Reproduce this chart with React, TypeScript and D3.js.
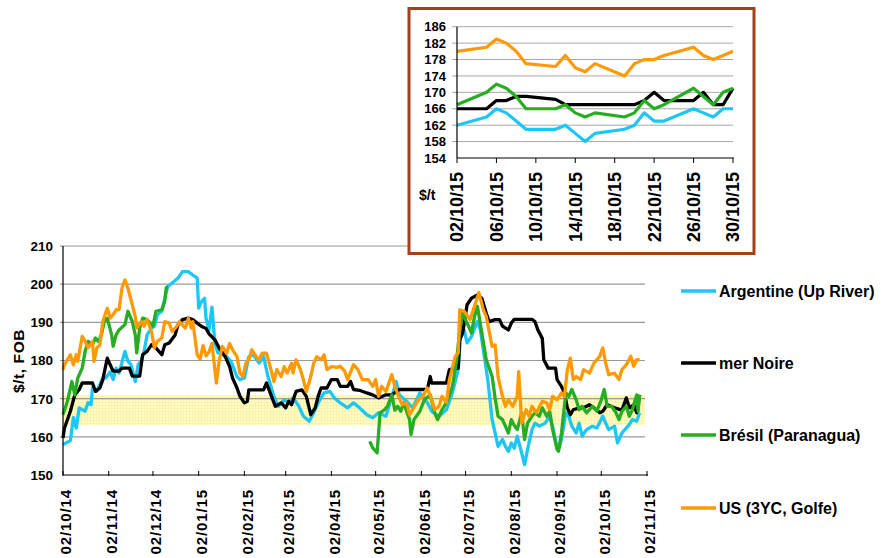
import React, { useEffect, useRef } from 'react';
import * as d3 from 'd3';

// prix FOB du maïs, $/t — séries
const argentine: [string, number][] = [
  ['14-10-02', 158], ['14-10-07', 159], ['14-10-09', 165], ['14-10-11', 162.3], ['14-10-13', 167.6], ['14-10-17', 166.7],
  ['14-10-19', 169], ['14-10-21', 168.4], ['14-10-22', 172.8], ['14-10-25', 172], ['14-10-27', 173.7], ['14-10-29', 175.4],
  ['14-10-31', 175.4], ['14-11-03', 177], ['14-11-05', 175], ['14-11-07', 178], ['14-11-09', 176.7], ['14-11-13', 182.4],
  ['14-11-15', 179.8], ['14-11-17', 179], ['14-11-20', 174.5], ['14-11-22', 179], ['14-11-24', 179.8], ['14-11-26', 182.4],
  ['14-11-28', 186.7], ['14-12-01', 188.5], ['14-12-03', 189], ['14-12-05', 192], ['14-12-08', 192.9], ['14-12-10', 196.3],
  ['14-12-12', 199.4], ['14-12-15', 200.3], ['14-12-19', 201.6], ['14-12-22', 203.3], ['14-12-26', 203.3], ['14-12-29', 202.4],
  ['15-01-01', 201.6], ['15-01-02', 193.7], ['15-01-04', 195.5], ['15-01-06', 196.3], ['15-01-07', 191], ['15-01-09', 188],
  ['15-01-11', 194], ['15-01-13', 184.5], ['15-01-15', 182], ['15-01-18', 182.3], ['15-01-21', 181], ['15-01-24', 179.7],
  ['15-01-28', 175.8], ['15-01-30', 175], ['15-02-02', 175.4], ['15-02-05', 181], ['15-02-08', 181.5], ['15-02-12', 179.3],
  ['15-02-15', 181], ['15-02-18', 175.8], ['15-02-22', 170.6], ['15-02-25', 168], ['15-03-01', 169.7], ['15-03-04', 168.9],
  ['15-03-07', 170.2], ['15-03-11', 168], ['15-03-14', 165.4], ['15-03-18', 164.1], ['15-03-21', 166.3], ['15-03-24', 168.9],
  ['15-03-28', 171.5], ['15-04-01', 171.9], ['15-04-04', 170.2], ['15-04-08', 168.9], ['15-04-13', 167.6], ['15-04-17', 168.9],
  ['15-04-21', 167.6], ['15-04-26', 165.8], ['15-04-30', 165], ['15-05-04', 166.3], ['15-05-09', 165.4], ['15-05-13', 170.6],
  ['15-05-16', 174.5], ['15-05-18', 171], ['15-05-23', 169.3], ['15-05-27', 167.6], ['15-06-01', 171.5], ['15-06-06', 169],
  ['15-06-09', 166.7], ['15-06-14', 165.4], ['15-06-19', 167.1], ['15-06-23', 171.5], ['15-06-27', 177.6], ['15-06-29', 188.9],
  ['15-07-01', 188], ['15-07-03', 184.6], ['15-07-06', 186.3], ['15-07-10', 190.2], ['15-07-12', 188], ['15-07-14', 182.8],
  ['15-07-17', 175], ['15-07-20', 164.5], ['15-07-24', 157.5], ['15-07-27', 159.3], ['15-07-29', 157.5], ['15-07-31', 156.2],
  ['15-08-02', 158.4], ['15-08-04', 157], ['15-08-06', 160.2], ['15-08-09', 155.8], ['15-08-11', 152.7], ['15-08-13', 156.7],
  ['15-08-16', 161.9], ['15-08-18', 163.6], ['15-08-21', 162.8], ['15-08-25', 163.6], ['15-08-28', 165.4], ['15-08-30', 162.8],
  ['15-09-02', 157.1], ['15-09-03', 156.7], ['15-09-05', 159.3], ['15-09-08', 166.3], ['15-09-10', 165.4], ['15-09-12', 162.8],
  ['15-09-15', 161], ['15-09-17', 163.6], ['15-09-19', 160.2], ['15-09-22', 161.9], ['15-09-26', 162.8], ['15-09-29', 162.3],
  ['15-10-03', 165.4], ['15-10-05', 163.6], ['15-10-07', 161.9], ['15-10-11', 162.8], ['15-10-13', 158.4], ['15-10-16', 161],
  ['15-10-18', 161.9], ['15-10-21', 163.2], ['15-10-23', 164.5], ['15-10-26', 164.1], ['15-10-28', 166.3],
];

const merNoire: [string, number][] = [
  ['14-10-02', 159.7], ['14-10-03', 162.3], ['14-10-07', 166.7], ['14-10-10', 171], ['14-10-13', 172.4], ['14-10-15', 174.1],
  ['14-10-22', 174.1], ['14-10-24', 171.9], ['14-10-27', 172.8], ['14-10-29', 175], ['14-11-01', 180.6], ['14-11-03', 178.9],
  ['14-11-05', 177.2], ['14-11-09', 177.2], ['14-11-11', 178], ['14-11-16', 178], ['14-11-18', 175.9], ['14-11-23', 175.9],
  ['14-11-25', 181.5], ['14-11-28', 182.4], ['14-12-01', 184.1], ['14-12-04', 183.3], ['14-12-08', 181.5], ['14-12-10', 184.1],
  ['14-12-13', 184.6], ['14-12-17', 186.7], ['14-12-19', 189.4], ['14-12-22', 190.7], ['14-12-26', 191.1], ['14-12-29', 190.7],
  ['15-01-01', 189.8], ['15-01-04', 188.9], ['15-01-07', 188.4], ['15-01-09', 187], ['15-01-13', 185.4], ['15-01-16', 183.2],
  ['15-01-20', 181], ['15-01-23', 178.4], ['15-01-25', 175.4], ['15-01-28', 172.8], ['15-01-30', 170.6], ['15-02-02', 168.9],
  ['15-02-04', 169.3], ['15-02-05', 172.3], ['15-02-15', 172.3], ['15-02-17', 174.1], ['15-02-20', 171], ['15-02-23', 168],
  ['15-02-27', 168.9], ['15-03-02', 167.6], ['15-03-04', 169.3], ['15-03-06', 168.4], ['15-03-09', 171.9], ['15-03-13', 172.3],
  ['15-03-16', 170.6], ['15-03-19', 165.8], ['15-03-22', 167.6], ['15-03-24', 170.6], ['15-03-26', 172.8], ['15-03-30', 172.8],
  ['15-04-02', 175], ['15-04-06', 175], ['15-04-08', 173.2], ['15-04-13', 173.2], ['15-04-15', 174.5], ['15-04-17', 172.4],
  ['15-04-21', 172.2], ['15-04-26', 171.5], ['15-04-30', 171], ['15-05-04', 170.2], ['15-05-09', 171], ['15-05-13', 171],
  ['15-05-18', 172.4], ['15-06-06', 172.4], ['15-06-08', 175.8], ['15-06-09', 174.1], ['15-06-19', 174.1], ['15-06-21', 177.6],
  ['15-06-27', 178], ['15-06-28', 185.4], ['15-06-30', 187.2], ['15-07-03', 194.6], ['15-07-06', 196.3], ['15-07-10', 197.2],
  ['15-07-13', 196.3], ['15-07-16', 192.4], ['15-07-18', 190.2], ['15-07-22', 190.7], ['15-07-25', 190.7], ['15-07-27', 189],
  ['15-07-31', 188], ['15-08-02', 189.8], ['15-08-04', 190.8], ['15-08-16', 190.8], ['15-08-18', 190.2], ['15-08-20', 188],
  ['15-08-23', 185.8], ['15-08-24', 180.2], ['15-08-27', 178], ['15-09-01', 178], ['15-09-02', 175], ['15-09-05', 173.2],
  ['15-09-07', 171.5], ['15-09-09', 167.6], ['15-09-11', 165.8], ['15-09-13', 167.1], ['15-09-17', 167.6], ['15-09-20', 167.6],
  ['15-09-24', 168.4], ['15-09-27', 167.6], ['15-10-01', 166.3], ['15-10-03', 166.7], ['15-10-06', 168.4], ['15-10-11', 167.6],
  ['15-10-16', 167], ['15-10-19', 170.2], ['15-10-21', 167.6], ['15-10-24', 168.4], ['15-10-26', 166.3], ['15-10-28', 171],
];

// null = pas de cotation (décembre 2014 à fin avril 2015)
const bresil: [string, number | null][] = [
  ['14-10-02', 165.8], ['14-10-05', 169.3], ['14-10-08', 174.5], ['14-10-10', 171], ['14-10-12', 175.4], ['14-10-15', 178],
  ['14-10-17', 182.4], ['14-10-19', 185], ['14-10-22', 184.1], ['14-10-24', 185.9], ['14-10-26', 185], ['14-10-28', 186.7],
  ['14-10-30', 190.2], ['14-11-01', 191.1], ['14-11-04', 186.7], ['14-11-05', 183.7], ['14-11-07', 186.7], ['14-11-09', 188],
  ['14-11-13', 189.4], ['14-11-15', 192.9], ['14-11-18', 190.2], ['14-11-20', 186.7], ['14-11-21', 182], ['14-11-23', 188.5],
  ['14-11-25', 191.1], ['14-11-28', 190.7], ['14-12-02', 189], ['14-12-04', 192.9], ['14-12-08', 193.3], ['14-12-10', 195.5],
  ['14-12-11', 199], ['14-12-12', 199.4], ['15-02-01', null],
  ['15-04-28', 158.8], ['15-04-30', 157.1], ['15-05-03', 155.8], ['15-05-05', 166.3], ['15-05-08', 167.1], ['15-05-10', 168],
  ['15-05-13', 171], ['15-05-15', 167], ['15-05-17', 168], ['15-05-19', 166.7], ['15-05-21', 168.9], ['15-05-25', 164.5],
  ['15-05-26', 160.6], ['15-05-28', 164.5], ['15-06-01', 166.7], ['15-06-04', 169.7], ['15-06-08', 171], ['15-06-11', 166.3],
  ['15-06-13', 164.5], ['15-06-16', 167.1], ['15-06-20', 169.7], ['15-06-23', 173.2], ['15-06-26', 180.2], ['15-06-28', 188],
  ['15-06-30', 192.4], ['15-07-03', 189.8], ['15-07-06', 187.2], ['15-07-08', 191.5], ['15-07-10', 194.2], ['15-07-13', 187.2],
  ['15-07-16', 180.2], ['15-07-20', 175.8], ['15-07-22', 170.2], ['15-07-24', 165.4], ['15-07-27', 164.5], ['15-07-29', 162.8],
  ['15-07-31', 161], ['15-08-02', 164.5], ['15-08-04', 163], ['15-08-06', 161.9], ['15-08-09', 166.3], ['15-08-11', 159.3],
  ['15-08-13', 163.6], ['15-08-16', 165.4], ['15-08-18', 166.3], ['15-08-21', 165.4], ['15-08-23', 167.6], ['15-08-26', 165.4],
  ['15-08-28', 166.7], ['15-08-30', 161.9], ['15-09-02', 156.7], ['15-09-03', 156.2], ['15-09-05', 161], ['15-09-08', 171.5],
  ['15-09-10', 170.6], ['15-09-12', 172.4], ['15-09-15', 169.7], ['15-09-17', 167.1], ['15-09-19', 168], ['15-09-22', 166.3],
  ['15-09-26', 168], ['15-09-29', 166.7], ['15-10-02', 169.7], ['15-10-04', 172.4], ['15-10-06', 168], ['15-10-09', 168],
  ['15-10-12', 166.3], ['15-10-14', 164.5], ['15-10-16', 166.7], ['15-10-19', 168], ['15-10-21', 165.4], ['15-10-23', 167],
  ['15-10-26', 171], ['15-10-27', 166.7], ['15-10-28', 171],
];

const us: [string, number][] = [
  ['14-10-02', 177.6], ['14-10-03', 178.9], ['14-10-07', 181.5], ['14-10-09', 178.9], ['14-10-11', 181.5], ['14-10-12', 179.8],
  ['14-10-15', 186.3], ['14-10-17', 185], ['14-10-19', 183.3], ['14-10-22', 185], ['14-10-23', 179.8], ['14-10-25', 183.3],
  ['14-10-27', 184.1], ['14-10-29', 190.2], ['14-11-01', 193.7], ['14-11-03', 191.1], ['14-11-05', 192], ['14-11-07', 193.3],
  ['14-11-09', 193.3], ['14-11-11', 199], ['14-11-13', 201.1], ['14-11-15', 199], ['14-11-18', 194.6], ['14-11-20', 191.5],
  ['14-11-21', 188.5], ['14-11-24', 190.2], ['14-11-26', 189], ['14-11-28', 190.7], ['14-12-01', 187.6], ['14-12-03', 183.3],
  ['14-12-05', 185], ['14-12-08', 185.9], ['14-12-10', 190.2], ['14-12-13', 189.8], ['14-12-15', 187.6], ['14-12-18', 188.9],
  ['14-12-20', 190.2], ['14-12-24', 188.5], ['14-12-26', 191.1], ['14-12-28', 188.5], ['14-12-29', 190.2], ['15-01-01', 181.5],
  ['15-01-03', 180.4], ['15-01-05', 183.9], ['15-01-07', 181.2], ['15-01-09', 182.2], ['15-01-11', 184.5], ['15-01-14', 174.1],
  ['15-01-16', 180.2], ['15-01-18', 183.7], ['15-01-21', 181.9], ['15-01-23', 184.5], ['15-01-25', 182.8], ['15-01-28', 181],
  ['15-01-30', 176.7], ['15-02-01', 175.8], ['15-02-03', 179.3], ['15-02-05', 180.2], ['15-02-07', 182.8], ['15-02-10', 181],
  ['15-02-12', 180.2], ['15-02-14', 181.9], ['15-02-17', 181.9], ['15-02-20', 177.6], ['15-02-22', 174.5], ['15-02-24', 177.6],
  ['15-02-27', 175.8], ['15-03-01', 178.4], ['15-03-03', 176.7], ['15-03-06', 179.3], ['15-03-07', 176.7], ['15-03-09', 180.2],
  ['15-03-12', 177.6], ['15-03-14', 175], ['15-03-16', 171.9], ['15-03-19', 175.8], ['15-03-21', 179.3], ['15-03-23', 181],
  ['15-03-26', 180.2], ['15-03-28', 181.5], ['15-03-30', 177.6], ['15-04-02', 178.4], ['15-04-06', 178.2], ['15-04-08', 178.5],
  ['15-04-11', 177.2], ['15-04-13', 175], ['15-04-17', 178.9], ['15-04-20', 177.6], ['15-04-23', 175], ['15-04-27', 175],
  ['15-04-30', 173.2], ['15-05-02', 175], ['15-05-04', 170.6], ['15-05-06', 173.2], ['15-05-09', 171.9], ['15-05-13', 176.3],
  ['15-05-15', 173.2], ['15-05-18', 170.2], ['15-05-20', 168.4], ['15-05-23', 168.9], ['15-05-25', 165.8], ['15-05-27', 167.1],
  ['15-05-31', 169.7], ['15-06-03', 170.6], ['15-06-06', 172.8], ['15-06-09', 169.7], ['15-06-11', 167.1], ['15-06-14', 168],
  ['15-06-16', 170.6], ['15-06-19', 169], ['15-06-21', 175], ['15-06-25', 181.1], ['15-06-27', 182], ['15-06-28', 193.3],
  ['15-07-01', 192.9], ['15-07-05', 190.7], ['15-07-08', 194.2], ['15-07-11', 197.8], ['15-07-14', 193.3], ['15-07-16', 191.5],
  ['15-07-20', 183.7], ['15-07-22', 184.1], ['15-07-24', 175.8], ['15-07-27', 170.6], ['15-07-29', 168], ['15-07-31', 169.7],
  ['15-08-03', 168], ['15-08-06', 170.6], ['15-08-07', 177.1], ['15-08-09', 163.6], ['15-08-12', 167.1], ['15-08-14', 165.4],
  ['15-08-16', 168], ['15-08-19', 166.3], ['15-08-23', 169.3], ['15-08-26', 168.9], ['15-08-28', 167.1], ['15-08-30', 170.6],
  ['15-09-02', 169.7], ['15-09-05', 171.5], ['15-09-07', 170.6], ['15-09-09', 177.6], ['15-09-11', 180.6], ['15-09-13', 175],
  ['15-09-15', 175.8], ['15-09-18', 175], ['15-09-20', 177.6], ['15-09-24', 176.7], ['15-09-27', 179.3], ['15-10-01', 181.1],
  ['15-10-03', 183.3], ['15-10-05', 179.3], ['15-10-07', 176.3], ['15-10-11', 176.7], ['15-10-14', 175], ['15-10-16', 177.6],
  ['15-10-19', 178.9], ['15-10-22', 181.1], ['15-10-24', 178.5], ['15-10-26', 180.2], ['15-10-28', 180.2],
];

// encart : octobre 2015, jours ouvrés
const insetDates = ['15-10-02', '15-10-05', '15-10-06', '15-10-07', '15-10-08', '15-10-09', '15-10-12', '15-10-13', '15-10-14',
  '15-10-15', '15-10-16', '15-10-19', '15-10-20', '15-10-21', '15-10-22', '15-10-23', '15-10-26', '15-10-27', '15-10-28',
  '15-10-29', '15-10-30'];
const insetArgentine = [162, 164, 166, 165, 163, 161, 161, 162, 160, 158, 160, 161, 162, 165, 163, 163, 166, 165, 164, 166, 166];
const insetMerNoire = [166, 166, 168, 168, 169, 169, 168.3, 167, 167, 167, 167, 167, 167, 168, 170, 168, 168, 170, 167, 167, 171];
const insetBresil = [167, 170, 172, 171, 169, 166, 166, 167, 165, 164, 165, 164, 165, 168, 166, 167, 171, 169, 167, 170, 171];
const insetUs = [180, 181, 183, 182, 180, 177, 176.3, 179, 176, 175, 177, 174, 177, 178, 178, 179, 181, 179, 178, 179, 180];

const seriesNames = ['Argentine (Up River)', 'mer Noire', 'Brésil (Paranagua)', 'US (3YC, Golfe)'];
const seriesColors = ['#1ec6f6', '#000000', '#26ad22', '#ff9a05'];

const mainTicks = ['14-10-02', '14-11-02', '14-12-02', '15-01-02', '15-02-02', '15-03-02', '15-04-02', '15-05-02',
  '15-06-02', '15-07-02', '15-08-02', '15-09-02', '15-10-02', '15-11-02'];
const yTicks = [150, 160, 170, 180, 190, 200, 210];
const band = [163, 171];
const insetTicks = ['15-10-02', '15-10-06', '15-10-10', '15-10-14', '15-10-18', '15-10-22', '15-10-26', '15-10-30'];
const insetYTicks = [154, 158, 162, 166, 170, 174, 178, 182, 186];

const FONT = '"Liberation Sans", Arial, sans-serif';
const parse = d3.timeParse('%y-%m-%d');

const App = () => {
  const ref = useRef(null);

  useEffect(() => {
    document.body.style.margin = '0';
    d3.select(ref.current).selectAll('svg').remove();

    const svg = d3.select(ref.current)
      .append('svg')
      .attr('width', 882)
      .attr('height', 558)
      .style('display', 'block')
      .attr('font-family', FONT)
      .attr('font-weight', 'bold');

    svg.append('rect').attr('width', 882).attr('height', 558).attr('fill', 'white');

    // ---- graphique principal
    const x = d3.scaleTime().domain([parse('14-10-02'), parse('15-11-02')]).range([63, 647]);
    const y = d3.scaleLinear().domain([150, 210]).range([475, 246]);
    const x0 = 63, x1 = 645;

    const defs = svg.append('defs');
    const pat = defs.append('pattern').attr('id', 'band').attr('width', 3).attr('height', 3)
      .attr('patternUnits', 'userSpaceOnUse');
    pat.append('rect').attr('width', 3).attr('height', 3).attr('fill', '#fffcc6');
    pat.append('path').attr('d', 'M0,0.5H3M0.5,0V3').attr('stroke', '#f6efa0').attr('stroke-width', 0.6);

    svg.append('rect')
      .attr('x', x0).attr('y', y(band[1]))
      .attr('width', x1 - x0).attr('height', y(band[0]) - y(band[1]))
      .attr('fill', 'url(#band)');

    svg.append('g')
      .selectAll('line')
      .data(yTicks.filter(d => d > 150))
      .join('line')
      .attr('x1', x0 - 3).attr('x2', x1)
      .attr('y1', d => y(d)).attr('y2', d => y(d))
      .attr('stroke', '#9a9a9a').attr('stroke-width', 1.2);

    svg.append('g')
      .attr('font-size', 13.5)
      .attr('text-anchor', 'end')
      .selectAll('text')
      .data(yTicks)
      .join('text')
      .attr('x', 53).attr('y', d => y(d))
      .attr('dy', '0.36em')
      .text(d => d);

    svg.append('text')
      .attr('transform', 'translate(24,361) rotate(-90)')
      .attr('text-anchor', 'middle')
      .attr('font-size', 15.5)
      .attr('letter-spacing', 0.6)
      .text('$/t, FOB');

    const line = d3.line<[Date, number | null]>()
      .defined(d => d[1] != null)
      .x(d => x(d[0]))
      .y(d => y(d[1] as number))
      .curve(d3.curveLinear);

    const mainSeries = [argentine, merNoire, bresil, us].map(s => s.map(d => [parse(d[0]), d[1]] as [Date, number | null]));
    svg.append('g')
      .attr('fill', 'none')
      .attr('stroke-width', 3.3)
      .attr('stroke-linejoin', 'round')
      .selectAll('path')
      .data(mainSeries)
      .join('path')
      .attr('stroke', (d, i) => seriesColors[i])
      .attr('d', line);

    // axes
    svg.append('line').attr('x1', x0).attr('x2', x0).attr('y1', 246).attr('y2', y(150))
      .attr('stroke', '#000').attr('stroke-width', 1.2);
    svg.append('line').attr('x1', x0).attr('x2', 648).attr('y1', y(150)).attr('y2', y(150))
      .attr('stroke', '#000').attr('stroke-width', 1.2);
    const mt = mainTicks.map(parse);
    svg.append('g')
      .selectAll('line')
      .data(mt)
      .join('line')
      .attr('x1', d => x(d)).attr('x2', d => x(d))
      .attr('y1', y(150) - 4).attr('y2', y(150) + 1)
      .attr('stroke', '#000');
    const fmt = d3.timeFormat('%d/%m/%y');
    svg.append('g')
      .attr('font-size', 15)
      .attr('letter-spacing', 0.9)
      .attr('text-anchor', 'end')
      .selectAll('text')
      .data(mt)
      .join('text')
      .attr('transform', d => `translate(${x(d) + 3},489) rotate(-90)`)
      .attr('dy', '0.36em')
      .text(d => fmt(d));

    // légende
    const lg = svg.append('g')
      .selectAll('g')
      .data(seriesNames)
      .join('g')
      .attr('transform', (d, i) => `translate(681,${[291, 363, 435, 508][i]})`);
    lg.append('line').attr('x1', 0).attr('x2', 35)
      .attr('stroke', (d, i) => seriesColors[i]).attr('stroke-width', 3.5);
    lg.append('text').attr('x', 38).attr('dy', '0.36em').attr('font-size', 16).text(d => d);

    // ---- encart octobre 2015
    svg.append('rect')
      .attr('x', 409).attr('y', 8.5).attr('width', 345).attr('height', 245)
      .attr('fill', 'white').attr('stroke', '#a2421c').attr('stroke-width', 3);

    const ix = d3.scaleTime().domain([parse('15-10-02'), parse('15-10-30')]).range([457, 733]);
    const iy = d3.scaleLinear().domain([154, 186]).range([158, 26.7]);

    svg.append('g')
      .selectAll('line')
      .data(insetYTicks.filter(d => d > 154))
      .join('line')
      .attr('x1', 452).attr('x2', 733)
      .attr('y1', d => iy(d)).attr('y2', d => iy(d))
      .attr('stroke', '#a8a8a8').attr('stroke-width', 1);

    svg.append('g')
      .attr('font-size', 13)
      .attr('text-anchor', 'end')
      .selectAll('text')
      .data(insetYTicks)
      .join('text')
      .attr('x', 446).attr('y', d => iy(d))
      .attr('dy', '0.36em')
      .text(d => d);

    const insetSeries = [insetArgentine, insetMerNoire, insetBresil, insetUs]
      .map(s => s.map((v, i) => [parse(insetDates[i]), v] as [Date, number]));
    const iline = d3.line<[Date, number]>().x(d => ix(d[0])).y(d => iy(d[1]));
    svg.append('g')
      .attr('fill', 'none')
      .attr('stroke-width', 3.2)
      .attr('stroke-linejoin', 'round')
      .selectAll('path')
      .data(insetSeries)
      .join('path')
      .attr('stroke', (d, i) => seriesColors[i])
      .attr('d', iline);

    svg.append('line').attr('x1', 457).attr('x2', 457).attr('y1', iy(186)).attr('y2', iy(154))
      .attr('stroke', '#000').attr('stroke-width', 1.2);
    svg.append('line').attr('x1', 457).attr('x2', 734).attr('y1', iy(154)).attr('y2', iy(154))
      .attr('stroke', '#000').attr('stroke-width', 1.2);
    const it = insetTicks.map(parse);
    svg.append('g')
      .selectAll('line')
      .data(it)
      .join('line')
      .attr('x1', d => ix(d)).attr('x2', d => ix(d))
      .attr('y1', iy(154)).attr('y2', iy(154) + 5)
      .attr('stroke', '#000');
    svg.append('g')
      .attr('font-size', 18)
      .attr('text-anchor', 'end')
      .selectAll('text')
      .data(it)
      .join('text')
      .attr('transform', d => `translate(${ix(d)},172) rotate(-90)`)
      .attr('dy', '0.36em')
      .text(d => fmt(d));

    svg.append('text').attr('x', 419).attr('y', 200).attr('font-size', 14).text('$/t');
  }, []);

  return <div ref={ref}></div>;
};

export default App;
